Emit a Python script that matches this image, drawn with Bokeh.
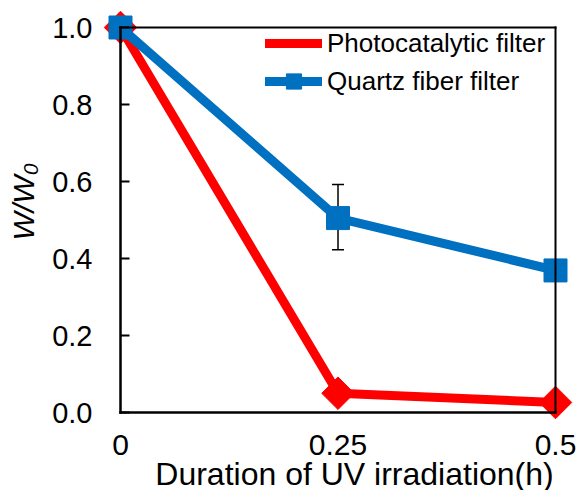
import numpy as np
from bokeh.plotting import figure
from bokeh.models import (LinearAxis, FixedTicker, Range1d, Whisker, TeeHead,
                          ColumnDataSource, Legend, LegendItem, Title,
                          NumeralTickFormatter)
from bokeh.embed import file_html
from bokeh.resources import INLINE

# ---------------- data ----------------
hours = [0, 0.25, 0.5]
photocatalytic = [1.0, 0.05, 0.026]
quartz = [1.0, 0.505, 0.369]
err_hours = [0.25]
quartz_err_lower = [0.423]
quartz_err_upper = [0.592]
x_tick_labels = ["0", "0.25", "0.5"]
y_ticks = [0.0, 0.2, 0.4, 0.6, 0.8, 1.0]
series_names = ["Photocatalytic filter", "Quartz fiber filter"]
x_title = "Duration of UV irradiation(h)"
y_title = "W/W\u2080"

FONT = "Liberation Sans"
RED = "#FF0000"
BLUE = "#0070C0"

# ---------------- geometry (canvas px) ----------------
W, H = 580, 490
X0_PX, X1_PX = 120, 555      # where x=0 and x=0.5 fall
Y0_PX, Y1_PX = 412, 27       # where y=0 and y=1 fall
FL, FR, FT, FB = 42, 578, 10, 490   # frame edges
sx = (X1_PX - X0_PX) / 0.5
sy = (Y0_PX - Y1_PX) / 1.0


def xd(px):
    return (px - X0_PX) / sx


def yd(py):
    return (Y0_PX - py) / sy


p = figure(width=W, height=H,
           x_range=Range1d(xd(FL), xd(FR)), y_range=Range1d(yd(FB), yd(FT)),
           x_axis_location=None, y_axis_location=None,
           output_backend="svg", toolbar_location=None)
p.min_border_left = FL
p.min_border_right = W - FR
p.min_border_top = FT
p.min_border_bottom = H - FB
p.outline_line_color = None
p.grid.visible = False
p.background_fill_color = "white"
p.border_fill_color = "white"

nominor = dict(minor_tick_in=0, minor_tick_out=0, minor_tick_line_color=None)
nolabels = dict(major_label_text_font_size="0px", major_label_text_color=None)

# --- axes drawn at the data positions x=0 / y=0 ---
xaxis = LinearAxis(fixed_location=0, bounds=(0, 0.5),
                   ticker=FixedTicker(ticks=hours),
                   major_label_overrides={h: t for h, t in zip(hours, x_tick_labels)},
                   major_tick_in=0, major_tick_out=0, major_tick_line_color=None,
                   axis_line_width=2.5, axis_line_color="black", axis_line_cap="square",
                   major_label_standoff=22, major_label_text_font=FONT,
                   major_label_text_font_size="30px", major_label_text_color="black",
                   **nominor)
p.add_layout(xaxis, "below")

# x title carried by a line-less axis, centred under the plot
xtitle_axis = LinearAxis(fixed_location=0, bounds=(xd(131), xd(577)),
                         ticker=FixedTicker(ticks=[]), axis_line_color=None,
                         major_tick_in=0, major_tick_out=0,
                         axis_label=x_title, axis_label_text_font=FONT,
                         axis_label_text_font_size="32px",
                         axis_label_text_font_style="normal",
                         axis_label_text_color="black", axis_label_standoff=43,
                         **nolabels, **nominor)
p.add_layout(xtitle_axis, "below")

yaxis = LinearAxis(fixed_location=0, bounds=(0, 1),
                   ticker=FixedTicker(ticks=y_ticks),
                   formatter=NumeralTickFormatter(format="0.0"),
                   major_tick_in=9, major_tick_out=0, major_tick_line_width=2,
                   major_tick_line_color="black",
                   axis_line_width=2.5, axis_line_color="black", axis_line_cap="square",
                   major_label_standoff=28, major_label_text_font=FONT,
                   major_label_text_font_size="29px", major_label_text_color="black",
                   **nominor)
p.add_layout(yaxis, "left")

# --- top and right edges of the box ---
topline = LinearAxis(fixed_location=1.0, bounds=(0, 0.5), ticker=FixedTicker(ticks=[]),
                     major_tick_in=0, major_tick_out=0, axis_line_width=2,
                     axis_line_color="black", axis_line_cap="square",
                     **nolabels, **nominor)
p.add_layout(topline, "above")

rightline = LinearAxis(fixed_location=0.5, bounds=(0, 1), ticker=FixedTicker(ticks=[]),
                       major_tick_in=0, major_tick_out=0, axis_line_width=2,
                       axis_line_color="black", axis_line_cap="square",
                       **nolabels, **nominor)
p.add_layout(rightline, "right")

# --- y title (italic, with subscript) ---
p.add_layout(Title(text=y_title, align="left", offset=(FB - 240), standoff=5,
                   text_font=FONT, text_font_size="30px",
                   text_font_style="italic", text_color="black"), "left")

# error bar
err_src = ColumnDataSource(data=dict(x=err_hours, lower=quartz_err_lower,
                                     upper=quartz_err_upper))
wh = Whisker(base="x", lower="lower", upper="upper", source=err_src,
             dimension="height", line_color="black", line_width=1.5,
             upper_head=TeeHead(size=12, line_width=1.5, line_color="black"),
             lower_head=TeeHead(size=12, line_width=1.5, line_color="black"),
             level="underlay")
p.add_layout(wh)

# series
r_line = p.line(hours, photocatalytic, line_color=RED, line_width=9,
                line_join="round", line_cap="round")
r_mark = p.scatter(hours, photocatalytic, marker="square", angle=np.pi / 4,
                   size=23, fill_color=RED, line_color=RED)
b_line = p.line(hours, quartz, line_color=BLUE, line_width=9,
                line_join="round", line_cap="round")
b_mark = p.scatter(hours, quartz, marker="square", size=23,
                   fill_color=BLUE, line_color=BLUE)
# legend-only marker (legend ignores marker angle)
r_leg = p.scatter(x=[], y=[], marker="diamond", size=10, fill_color=RED,
                  line_color=RED, line_width=5, line_join="miter")

legend = Legend(items=[LegendItem(label=series_names[0], renderers=[r_line, r_leg]),
                       LegendItem(label=series_names[1], renderers=[b_line, b_mark])],
                location=(265 - FL, FB - 100), padding=0, margin=0, spacing=0,
                glyph_width=57, glyph_height=38, label_height=38,
                label_standoff=5, border_line_color=None,
                background_fill_alpha=0,
                label_text_font=FONT, label_text_font_size="26px",
                label_text_color="black")
p.add_layout(legend)

open("out.html", "w").write(file_html(p, INLINE))
